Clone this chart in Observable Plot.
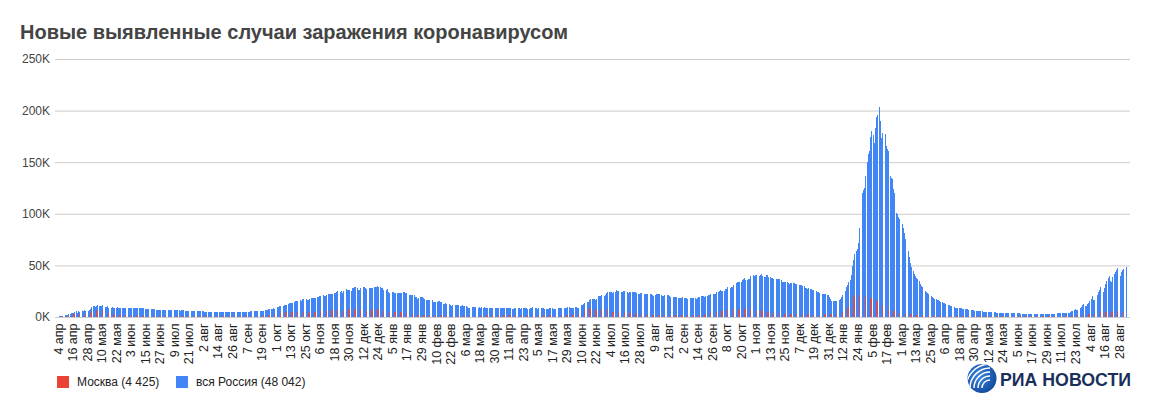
<!DOCTYPE html>
<html><head><meta charset="utf-8">
<script src="https://cdn.jsdelivr.net/npm/d3@7"></script>
<script src="https://cdn.jsdelivr.net/npm/@observablehq/plot@0.6"></script>
<style>
html,body{margin:0;padding:0;background:#fff;}
body{width:1150px;height:410px;position:relative;overflow:hidden;font-family:"Liberation Sans",Arial,sans-serif;}
#title{position:absolute;left:20px;top:21.6px;font-size:20px;line-height:20px;font-weight:bold;color:#444;white-space:nowrap;}
#chart{position:absolute;left:0;top:45px;}
.legend{position:absolute;top:375.5px;height:12px;font-size:12px;line-height:12px;color:#222;display:flex;align-items:center;white-space:nowrap;}
.sw{width:12px;height:12px;display:inline-block;margin-right:8px;}
#logo{position:absolute;left:960px;top:360px;}
</style></head><body>
<div id="title">Новые выявленные случаи заражения коронавирусом</div>
<div id="chart"></div>
<div class="legend" style="left:57px"><span class="sw" style="background:#ea4335"></span><span id="lgMo"></span></div>
<div class="legend" style="left:176px"><span class="sw" style="background:#4285f4"></span><span id="lgRu"></span></div>
<svg id="logo" width="180" height="40">
  <defs>
    <clipPath id="lc"><circle cx="22" cy="18.5" r="14.5"/></clipPath>
    <radialGradient id="lg" cx="40%" cy="40%" r="70%"><stop offset="0" stop-color="#3a86e0"/><stop offset="1" stop-color="#0e4597"/></radialGradient>
  </defs>
  <circle cx="22" cy="18.5" r="14.5" fill="url(#lg)"/>
  <g clip-path="url(#lc)" fill="none" stroke="#fff" stroke-width="1.5">
    <path d="M22,28 A8,8 0 0 1 30,20"/>
    <path d="M18,28 A12,12 0 0 1 30,16"/>
    <path d="M14,28 A16,16 0 0 1 30,12"/>
    <path d="M10,28 A20,20 0 0 1 30,8"/>
    <path d="M6,28 A24,24 0 0 1 30,4"/>
  </g>
  <text x="40" y="25.5" font-family="Liberation Sans, Arial, sans-serif" font-weight="bold" font-size="19" fill="#1b2f5b" textLength="131" lengthAdjust="spacingAndGlyphs">РИА НОВОСТИ</text>
</svg>
<script>
// Daily new cases, thousands. First day: 4 Apr 2020.
const startDate = new Date(2020, 3, 4);
const monthsRu = ["янв","фев","мар","апр","мая","июн","июл","авг","сен","окт","ноя","дек"];
const yTickValues = [0, 50000, 100000, 150000, 200000, 250000];

const russia2020K = [
  0.6,0.7,1.0,1.2,1.2,1.5,1.8,1.7,2.2,2.6,2.8,3.4,3.4,4.1,4.8,6.1,4.3,5.6,5.2,4.8,5.8,6.0,6.4,6.2,6.4,5.8,7.1,
  7.9,9.6,10.6,10.6,10.1,10.6,11.2,10.7,10.8,11.0,11.7,10.9,10.0,10.0,10.6,9.2,9.7,8.9,9.3,8.8,8.8,8.9,9.4,8.6,8.9,8.9,8.3,8.4,8.6,9.0,9.3,
  9.0,8.9,8.5,8.8,8.7,8.9,9.0,8.6,8.6,8.4,8.8,9.0,8.7,8.8,8.2,8.2,7.8,7.8,8.0,7.9,7.7,7.6,7.4,7.2,7.1,6.8,6.9,6.8,6.7,6.7,
  6.6,6.8,6.8,6.6,6.7,6.6,6.4,6.6,6.5,6.6,6.6,6.6,6.5,6.2,6.4,6.4,6.4,6.2,6.1,6.2,5.8,5.8,5.8,5.8,5.9,5.8,5.6,5.4,5.5,5.5,5.5,
  5.5,5.4,5.2,5.2,5.2,5.2,5.2,5.2,5.2,5.1,5.0,5.1,5.1,5.1,5.1,4.9,4.8,4.8,4.8,4.8,4.9,4.9,4.9,4.7,4.7,4.7,4.7,4.7,5.0,4.8,4.7,
  4.7,4.7,5.0,5.0,5.2,5.2,5.1,5.1,5.2,5.4,5.4,5.5,5.4,5.4,5.5,5.7,5.7,5.9,6.1,6.1,6.2,6.4,6.6,7.2,7.5,7.9,8.1,8.1,8.5,8.2,
  8.5,9.4,9.4,10.5,10.9,10.9,11.1,11.5,11.5,12.1,12.8,13.6,13.9,13.9,13.8,14.2,15.2,15.1,15.7,16.0,16.3,15.7,17.3,17.3,16.7,17.0,16.6,16.2,17.7,18.3,18.1,
  18.7,18.3,18.6,19.8,19.4,20.6,20.5,20.9,21.0,20.0,19.9,21.6,22.0,22.7,22.6,22.6,22.4,22.8,23.6,24.3,24.8,24.6,24.6,25.2,23.7,25.5,27.5,27.1,26.3,26.3,
  26.4,25.3,28.1,28.2,28.8,29.0,28.1,26.1,26.2,27.9,28.6,28.6,28.6,28.1,26.7,26.8,27.9,28.2,28.2,28.1,29.4,28.6,28.6,29.9,29.3,29.0,28.3,27.8,26.5,27.0,26.5
];
const russia2021K = [
  27.0,24.2,23.3,23.4,24.2,24.0,23.5,23.2,23.3,23.0,22.9,22.9,23.6,24.1,24.7,22.9,23.0,22.9,21.1,21.2,21.7,21.3,21.1,19.3,19.3,17.7,18.0,19.2,19.2,19.0,18.4,
  17.6,16.6,16.7,16.6,16.6,16.7,16.0,15.0,14.4,15.0,15.0,15.5,15.2,14.6,14.2,12.9,13.0,13.4,12.8,12.6,12.8,12.0,11.0,11.4,11.6,11.5,11.5,11.4,
  11.8,10.6,10.5,11.4,11.0,10.6,10.9,10.0,9.2,9.1,9.9,9.4,10.0,9.4,9.5,9.5,9.1,9.3,9.1,9.5,9.2,9.3,8.3,8.8,9.1,9.0,9.1,8.8,8.6,8.3,8.3,
  8.3,8.6,8.7,8.6,8.6,8.3,8.3,8.3,8.3,8.7,8.8,8.8,8.4,8.2,8.2,8.6,8.8,8.8,8.7,8.3,8.1,8.3,8.5,8.7,8.8,8.5,8.1,8.0,8.3,8.8,
  9.3,9.2,9.0,8.3,8.0,8.3,8.7,8.8,8.6,8.6,8.0,7.8,8.2,8.2,8.8,8.5,8.6,8.2,8.2,8.2,8.5,8.6,8.8,8.9,8.3,8.1,8.4,8.9,9.1,9.3,9.3,
  9.1,9.0,8.9,9.2,9.5,9.3,8.9,8.8,9.1,11.6,11.7,12.5,13.5,13.7,14.2,15.0,16.7,17.3,17.6,17.9,17.6,16.7,17.6,20.2,20.4,20.5,21.6,20.5,20.2,21.0,
  23.5,24.4,24.2,24.4,24.0,23.3,23.8,24.6,25.8,25.3,25.1,24.4,23.8,24.7,25.3,25.1,25.0,24.2,23.3,23.8,23.9,23.8,24.1,24.3,24.0,23.0,22.4,22.7,23.3,23.6,23.3,
  22.6,22.2,21.9,22.6,22.0,22.0,22.5,21.8,20.7,21.4,21.9,21.9,22.0,21.9,21.6,20.4,20.6,21.1,21.2,21.1,21.0,20.3,19.6,19.9,19.6,19.7,19.5,19.4,18.8,18.3,18.8,
  18.8,18.9,18.6,18.8,18.1,17.5,17.8,18.3,18.3,18.3,18.3,18.1,17.8,18.6,19.1,19.6,19.9,20.2,20.2,19.7,19.9,20.2,21.4,21.4,22.2,21.6,22.0,22.3,22.4,23.9,
  24.5,25.1,25.8,25.0,25.1,25.1,27.2,27.2,29.4,29.4,28.2,28.7,28.9,31.3,32.2,33.2,34.3,33.7,34.1,34.1,36.3,37.1,37.7,35.7,35.7,36.4,36.6,40.1,40.1,40.3,39.8,
  40.4,40.4,40.2,40.2,40.7,41.3,39.4,39.2,39.2,40.4,40.8,39.2,38.8,38.1,37.9,37.1,37.2,37.1,37.0,37.1,36.7,35.7,33.8,33.9,33.5,33.6,33.6,32.9,32.1,32.6,
  32.6,33.0,32.9,32.1,31.6,31.1,30.8,31.0,30.7,29.9,29.6,28.4,27.9,27.2,27.9,27.4,27.0,26.5,25.8,25.2,24.8,24.7,24.3,23.7,23.2,22.6,22.4,22.0,21.9,21.1,21.1
];
const russia2022K = [
  19.5,17.0,15.8,15.5,15.9,15.8,15.9,16.0,16.4,17.5,19.0,21.5,23.8,25.5,29.0,31.0,34.0,36.0,41.0,49.0,55.0,61.0,63.5,66.0,72.0,86.0,104.0,120.0,123.0,125.0,137.0,
  150,158,161,174,180,176,169,183,194,196,203.9,190,173,178,179,177,166,163,161,137,135,134,124,120,101,100,97,95,
  93,90,86,81,76,70,64,58,52,48,45,42,40,38,36.5,35,32,30.5,29,27.5,25.5,24.5,23,22,21,20,19.5,18.5,17.5,17,16.5,
  16.0,15.5,15.0,14.5,14.0,13.5,12.8,12.5,12.0,11.5,11.0,10.2,9.8,9.5,9.2,9.0,8.8,8.7,8.6,8.4,8.2,8.0,7.8,7.6,7.4,7.2,7.0,6.8,6.6,6.4,
  6.2,6.0,5.8,5.7,5.6,5.5,5.4,5.2,5.0,4.9,4.8,4.8,4.7,4.7,4.6,4.5,4.4,4.4,4.3,4.2,4.1,4.1,4.0,4.0,3.9,3.9,3.8,3.8,3.7,3.7,3.6,
  3.6,3.6,3.5,3.5,3.4,3.4,3.4,3.3,3.3,3.3,3.3,3.2,3.2,3.2,3.2,3.1,3.1,3.1,3.1,3.1,3.0,3.0,3.0,3.0,3.0,3.0,3.0,3.1,3.1,3.1,
  3.1,3.2,3.2,3.2,3.3,3.3,3.4,3.4,3.5,3.5,3.6,3.7,3.8,3.9,4.0,4.1,4.2,4.3,4.8,5.4,5.9,6.6,7.5,6.5,6.4,7.6,8.6,9.8,11.2,13.0,10.5,
  10.3,12.2,13.9,15.6,17.5,20.0,16.5,16.3,19.0,21.6,24.0,26.2,28.6,24.5,24.0,28.5,32.0,35.0,37.5,40.0,34.5,34.0,38.5,41.5,43.5,45.5,47.0,40.5,39.8,43.5,45.5,
  46.5,47.5,48.042
];

const moscow2020K = [
  0.5,0.5,0.7,0.7,0.6,0.9,1.1,1.0,1.4,1.4,1.5,1.7,1.8,2.6,3.1,3.6,2.6,3.4,2.8,2.1,2.6,2.6,2.7,2.9,3.1,2.2,3.1,
  3.6,5.4,6.0,5.9,5.8,6.7,6.0,5.6,5.7,5.9,6.2,5.4,4.7,4.4,4.6,3.5,3.2,3.2,2.6,2.5,2.3,2.4,2.6,2.3,2.1,2.1,1.8,1.9,2.1,2.3,2.6,
  2.3,2.0,1.9,2.0,1.8,1.6,1.6,1.6,1.2,1.3,1.2,1.5,1.1,1.2,1.1,1.0,1.1,1.1,1.1,1.1,1.1,1.0,0.9,0.8,0.8,0.7,0.7,0.7,0.7,0.6,
  0.6,0.7,0.7,0.7,0.7,0.7,0.6,0.6,0.7,0.6,0.6,0.6,0.6,0.6,0.6,0.6,0.6,0.6,0.7,0.6,0.6,0.6,0.7,0.7,0.7,0.7,0.6,0.6,0.7,0.7,0.7,
  0.7,0.7,0.6,0.6,0.7,0.7,0.7,0.7,0.7,0.7,0.7,0.7,0.7,0.7,0.7,0.7,0.7,0.7,0.7,0.7,0.7,0.7,0.7,0.7,0.6,0.6,0.6,0.6,0.7,0.7,0.7,
  0.7,0.7,0.7,0.7,0.8,0.8,0.7,0.8,0.8,0.8,0.8,0.9,1.0,1.0,1.0,1.0,1.0,1.1,1.1,1.1,1.2,1.3,1.6,1.6,2.0,2.2,2.3,2.5,2.9,3.0,
  3.1,3.3,3.3,3.6,4.0,4.4,4.5,4.9,4.9,5.0,5.0,4.7,4.6,4.6,4.6,4.8,4.8,4.6,4.5,4.5,4.6,4.6,5.0,5.0,5.1,4.9,4.6,4.3,5.0,5.3,5.3,
  5.6,4.9,4.6,5.4,5.5,5.9,5.8,5.9,5.9,5.6,5.4,5.8,5.9,6.3,6.4,6.4,6.4,6.3,6.2,6.5,6.9,6.7,6.5,6.6,6.1,6.2,7.0,7.2,7.9,7.9,
  7.5,6.3,6.8,6.6,6.5,8.3,7.0,5.2,5.3,6.6,6.6,6.9,7.0,7.0,5.6,5.4,6.4,6.3,6.4,6.5,7.4,7.2,7.1,8.2,7.6,6.8,6.3,5.6,5.5,5.2,5.2
];
const moscow2021K = [
  5.0,4.9,5.1,5.3,5.1,4.2,4.4,4.6,5.0,5.1,4.8,4.5,4.7,4.7,5.0,3.7,3.6,3.5,3.2,3.2,3.0,2.8,2.5,2.4,2.3,1.8,2.1,2.3,2.1,2.1,2.0,
  1.9,1.8,1.8,1.8,1.7,1.7,1.6,1.6,1.5,1.6,1.6,1.6,1.6,1.6,1.6,1.6,1.5,1.5,1.5,1.5,1.4,1.3,1.3,1.3,1.3,1.3,1.3,1.3,
  1.3,1.3,1.2,1.3,1.2,1.2,1.2,1.2,1.2,1.3,1.3,1.4,1.4,1.4,1.4,1.3,1.3,1.3,1.4,1.4,1.4,1.3,1.2,1.5,1.6,1.6,1.6,1.5,1.5,1.4,1.4,
  1.5,1.6,1.7,1.7,1.6,1.5,1.6,1.6,1.6,1.9,2.0,1.8,1.6,1.5,1.6,1.7,1.8,1.8,1.6,1.5,1.5,1.6,1.6,1.6,1.6,1.5,1.4,1.4,1.5,1.6,
  1.7,1.7,1.6,1.4,1.3,1.4,1.5,1.6,1.6,1.6,1.4,1.3,1.3,1.4,1.6,1.6,1.5,1.5,1.4,1.4,1.5,1.6,1.7,1.6,1.6,1.6,1.7,2.0,2.1,2.4,2.6,
  2.4,2.5,2.4,2.7,3.0,2.9,2.7,2.8,3.2,5.0,5.2,5.7,6.5,6.7,6.7,6.6,8.6,9.1,9.1,8.7,7.5,6.5,7.0,8.4,7.9,7.5,8.0,6.8,6.0,6.0,
  7.6,7.3,7.4,6.9,6.3,5.1,5.3,5.4,5.6,5.2,4.9,3.9,3.4,4.0,4.5,4.6,4.7,4.0,3.2,3.4,3.8,3.9,3.9,3.7,3.4,2.9,2.5,2.7,3.0,3.2,3.1,
  2.8,2.3,2.4,2.8,2.7,2.7,2.6,2.4,2.0,2.0,2.4,2.4,2.4,2.3,2.2,1.9,1.8,2.1,2.2,2.1,2.1,1.8,1.6,1.6,1.8,1.9,1.9,1.8,1.6,1.4,1.7,
  1.9,1.9,1.9,1.9,1.7,1.5,1.7,2.0,2.1,2.0,2.0,1.9,1.8,2.0,2.2,2.3,2.3,2.3,2.4,2.4,2.5,2.7,3.2,3.3,3.5,3.7,3.5,4.0,4.1,4.8,
  5.5,5.6,6.0,6.0,6.0,6.0,6.7,6.9,7.2,7.1,6.4,6.4,6.5,7.7,7.9,8.3,8.6,7.4,7.2,7.3,7.6,8.0,8.4,7.7,7.4,6.7,7.3,8.1,8.3,7.7,7.3,
  6.1,6.2,6.5,6.3,6.7,6.8,5.9,5.5,5.1,4.8,4.7,4.6,4.5,4.3,4.2,4.1,4.0,3.9,3.8,3.7,3.6,3.5,3.4,3.5,3.4,3.3,3.3,3.2,3.2,3.1,
  3.1,3.0,3.0,2.9,2.9,2.8,2.9,2.8,2.8,2.7,2.7,2.6,2.6,2.7,2.6,2.5,2.5,2.5,2.4,2.4,2.4,2.4,2.4,2.3,2.3,2.3,2.4,2.5,2.7,2.9,3.0
];
const moscow2022K = [
  3.1,2.8,2.6,2.6,2.7,2.9,2.9,3.0,3.2,3.6,4.1,4.7,5.8,6.5,7.6,8.4,9.8,11.5,13.9,16.6,19.0,21.2,23.6,23.0,22.4,21.0,24.0,23.5,22.0,21.0,20.5,
  20.0,19.5,19.0,18.6,18.3,17.0,18.0,17.5,16.0,15.0,14.5,13.0,12.0,11.5,11.0,10.5,9.5,8.5,8.0,7.0,6.5,6.0,5.8,5.5,5.0,4.7,4.4,4.2,
  4.0,3.8,3.6,3.4,3.2,3.0,2.9,2.8,2.7,2.6,2.5,2.4,2.3,2.2,2.1,2.0,1.9,1.9,1.8,1.8,1.7,1.7,1.6,1.6,1.5,1.5,1.5,1.4,1.4,1.4,1.3,
  1.3,1.3,1.2,1.2,1.2,1.1,1.1,1.1,1.0,1.0,1.0,1.0,0.9,0.9,0.9,0.9,0.9,0.8,0.8,0.8,0.8,0.8,0.8,0.8,0.7,0.7,0.7,0.7,0.7,0.7,
  0.7,0.6,0.6,0.6,0.6,0.6,0.6,0.6,0.6,0.6,0.6,0.6,0.6,0.6,0.6,0.6,0.6,0.6,0.6,0.6,0.6,0.6,0.6,0.6,0.6,0.6,0.6,0.6,0.6,0.6,0.6,
  0.6,0.6,0.6,0.6,0.5,0.5,0.5,0.5,0.5,0.5,0.5,0.5,0.5,0.5,0.5,0.5,0.5,0.5,0.5,0.5,0.5,0.5,0.5,0.5,0.5,0.5,0.5,0.5,0.5,0.5,
  0.5,0.5,0.5,0.6,0.6,0.6,0.6,0.6,0.7,0.7,0.7,0.8,0.8,0.9,0.9,1.0,1.0,1.1,1.2,1.3,1.4,1.5,1.7,1.6,1.7,1.9,2.0,2.2,2.4,2.7,2.4,
  2.4,2.8,3.1,3.3,3.5,3.9,3.3,3.3,3.8,4.1,4.4,4.6,4.9,4.2,4.1,4.6,4.9,5.1,5.2,5.4,4.6,4.5,4.9,5.1,5.2,5.3,5.4,4.3,4.2,4.5,4.6,
  4.4,4.5,4.425
];

const russiaK = [...russia2020K, ...russia2021K, ...russia2022K];
const moscowK = [...moscow2020K, ...moscow2021K, ...moscow2022K];
const data = russiaK.map((v, i) => ({i, ru: v * 1000, mo: moscowK[i] * 1000}));

const dayLabel = i => {
  const d = d3.timeDay.offset(startDate, i);
  return `${d.getDate()} ${monthsRu[d.getMonth()]}`;
};
const tickIdx = d3.range(0, data.length, 12);
const fmtNum = v => String(Math.round(v)).replace(/\B(?=(\d{3})+(?!\d))/g, " ");
document.getElementById("lgMo").textContent = `Москва (${fmtNum(data[data.length - 1].mo)})`;
document.getElementById("lgRu").textContent = `вся Россия (${fmtNum(data[data.length - 1].ru)})`;

const chart = Plot.plot({
  width: 1150,
  height: 320,
  marginTop: 14,
  marginBottom: 48,
  marginLeft: 57.5,
  marginRight: 23,
  style: {fontFamily: '"Liberation Sans", Arial, sans-serif', fontSize: "12px", color: "#444", background: "transparent"},
  x: {type: "band", domain: data.map(d => d.i), padding: 0, round: false},
  y: {domain: [0, 250000]},
  marks: [
    Plot.ruleY(yTickValues, {stroke: "#cccccc", insetLeft: -2.5, insetRight: -3}),
    Plot.barY(data, {x: "i", y: "ru", fill: "#4285f4", insetRight: 0.3, shapeRendering: "crispEdges"}),
    Plot.barY(data, {x: "i", y: "mo", fill: "#ea4335", fillOpacity: 0.8, insetRight: 0.9, shapeRendering: "crispEdges"}),
    Plot.axisY({ticks: yTickValues, tickFormat: d => d / 1000 + "K", tickSize: 0, tickPadding: 8, fontSize: 12, color: "#444", label: null}),
    Plot.axisX({ticks: tickIdx, tickFormat: dayLabel, tickRotate: -90, tickSize: 0, tickPadding: 6, fontSize: 12.5, color: "#222", label: null})
  ]
});
document.getElementById("chart").appendChild(chart);
</script>
</body></html>
